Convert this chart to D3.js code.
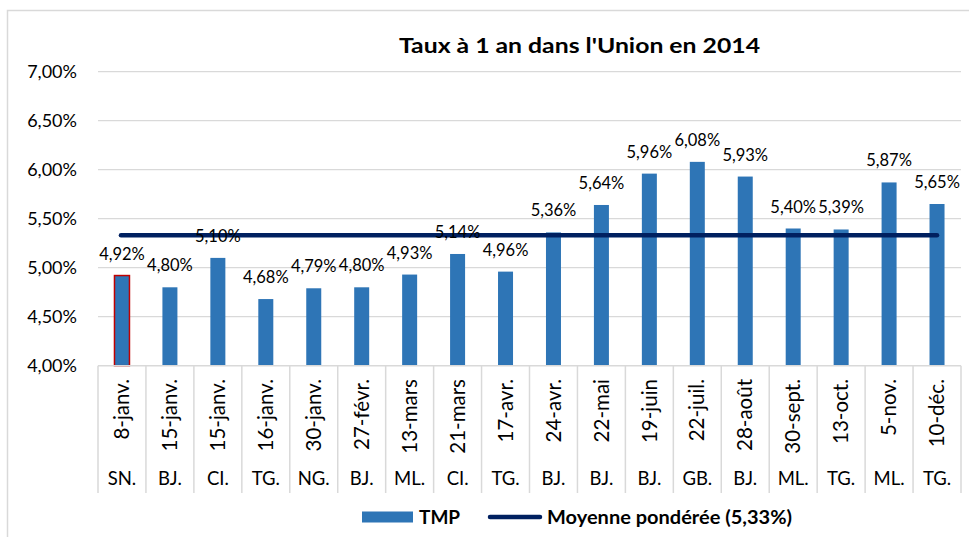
<!DOCTYPE html>
<html>
<head>
<meta charset="utf-8">
<script src="https://cdn.jsdelivr.net/npm/d3@7"></script>
<style>
  html, body { margin: 0; padding: 0; background: #fff; }
  svg { display: block; }
  text { font-family: Lato, "Liberation Sans", sans-serif; fill: #000; }
</style>
</head>
<body>
<svg id="chart" width="969" height="537"></svg>
<script>
const title = "Taux à 1 an dans l'Union en 2014";
const dates = ["8-janv.", "15-janv.", "15-janv.", "16-janv.", "30-janv.", "27-févr.", "13-mars", "21-mars", "17-avr.", "24-avr.", "22-mai", "19-juin", "22-juil.", "28-août", "30-sept.", "13-oct.", "5-nov.", "10-déc."];
const countries = ["SN.", "BJ.", "CI.", "TG.", "NG.", "BJ.", "ML.", "CI.", "TG.", "BJ.", "BJ.", "BJ.", "GB.", "BJ.", "ML.", "TG.", "ML.", "TG."];
const tmp = [4.92, 4.80, 5.10, 4.68, 4.79, 4.80, 4.93, 5.14, 4.96, 5.36, 5.64, 5.96, 6.08, 5.93, 5.40, 5.39, 5.87, 5.65];
const moyenne = 5.33;
const yTicks = [4.0, 4.5, 5.0, 5.5, 6.0, 6.5, 7.0];
const seriesNames = ["TMP", "Moyenne pondérée (5,33%)"];

const fmt = v => d3.format(".2f")(v).replace(".", ",") + "%";

const svg = d3.select("#chart");
const plot = { left: 98, right: 961, top: 71.7, bottom: 365.7 };

const x = d3.scaleBand().domain(d3.range(tmp.length)).range([plot.left, plot.right]).paddingInner(0).paddingOuter(0);
const y = d3.scaleLinear().domain([4, 7]).range([plot.bottom, plot.top]);

// outer border
svg.append("rect").attr("x", 7.5).attr("y", 10.5).attr("width", 975).attr("height", 545)
  .attr("fill", "none").attr("stroke", "#d9d9d9").attr("stroke-width", 1.5);

// title
svg.append("text").attr("x", 579.5).attr("y", 53).attr("text-anchor", "middle")
  .attr("font-weight", "bold").attr("font-size", 21)
  .attr("textLength", 361).attr("lengthAdjust", "spacingAndGlyphs")
  .text(title);

// gridlines
svg.append("g").selectAll("line").data(yTicks.filter(t => t > 4)).join("line")
  .attr("x1", plot.left).attr("x2", plot.right)
  .attr("y1", d => y(d)).attr("y2", d => y(d))
  .attr("stroke", "#d9d9d9").attr("stroke-width", 1.3);

// y axis labels
const yAxis = d3.axisLeft(y).tickValues(yTicks).tickFormat(fmt).tickSize(0).tickPadding(0);
const gy = svg.append("g").attr("transform", `translate(${plot.left - 21},0)`).call(yAxis);
gy.select(".domain").remove();
gy.selectAll("text").attr("font-size", 18).attr("font-family", "Lato, 'Liberation Sans', sans-serif").attr("fill", "#000");

// bars
svg.append("g").selectAll("rect").data(tmp).join("rect")
  .attr("x", (d, i) => x(i) + x.bandwidth() / 2 - 7.5)
  .attr("width", 15)
  .attr("y", d => y(d))
  .attr("height", d => y(4) - y(d))
  .attr("fill", "#2E75B6")
  .attr("stroke", (d, i) => i === 0 ? "#C00000" : "none")
  .attr("stroke-width", 1.5);

// average line
svg.append("line")
  .attr("x1", x(0) + x.bandwidth() / 2 - 1).attr("x2", x(tmp.length - 1) + x.bandwidth() / 2)
  .attr("y1", y(moyenne)).attr("y2", y(moyenne))
  .attr("stroke", "#002060").attr("stroke-width", 4.5).attr("stroke-linecap", "round");

// data labels
svg.append("g").selectAll("text").data(tmp).join("text")
  .attr("x", (d, i) => x(i) + x.bandwidth() / 2)
  .attr("y", d => y(d) - 16)
  .attr("text-anchor", "middle").attr("font-size", 16.5)
  .text(d => fmt(d));

// category axis
const axisG = svg.append("g");
axisG.append("line").attr("x1", plot.left).attr("x2", plot.right)
  .attr("y1", plot.bottom).attr("y2", plot.bottom)
  .attr("stroke", "#d9d9d9").attr("stroke-width", 1.5);
const bounds = d3.range(tmp.length + 1).map(i => i < tmp.length ? x(i) : x(tmp.length - 1) + x.bandwidth());
axisG.selectAll("line.sep").data(bounds).join("line").attr("class", "sep")
  .attr("x1", d => d).attr("x2", d => d)
  .attr("y1", plot.bottom).attr("y2", 493)
  .attr("stroke", "#d9d9d9").attr("stroke-width", 1.5);

axisG.selectAll("text.date").data(dates).join("text").attr("class", "date")
  .attr("transform", (d, i) => `translate(${x(i) + x.bandwidth() / 2},379) rotate(-90)`)
  .attr("text-anchor", "end").attr("dy", "0.35em").attr("font-size", 20.5)
  .text(d => d);

axisG.selectAll("text.country").data(countries).join("text").attr("class", "country")
  .attr("x", (d, i) => x(i) + x.bandwidth() / 2).attr("y", 485)
  .attr("text-anchor", "middle").attr("font-size", 18.5)
  .text(d => d);

// legend
const lg = svg.append("g");
lg.append("rect").attr("x", 362).attr("y", 511.5).attr("width", 51).attr("height", 11).attr("fill", "#2E75B6");
lg.append("text").attr("x", 419).attr("y", 523.5).attr("font-weight", "bold").attr("font-size", 19).text(seriesNames[0]);
lg.append("line").attr("x1", 490).attr("x2", 540).attr("y1", 517).attr("y2", 517)
  .attr("stroke", "#002060").attr("stroke-width", 4.5).attr("stroke-linecap", "round");
lg.append("text").attr("x", 547).attr("y", 523.5).attr("font-weight", "bold").attr("font-size", 19)
  .attr("textLength", 245).attr("lengthAdjust", "spacingAndGlyphs").text(seriesNames[1]);
</script>
</body>
</html>
